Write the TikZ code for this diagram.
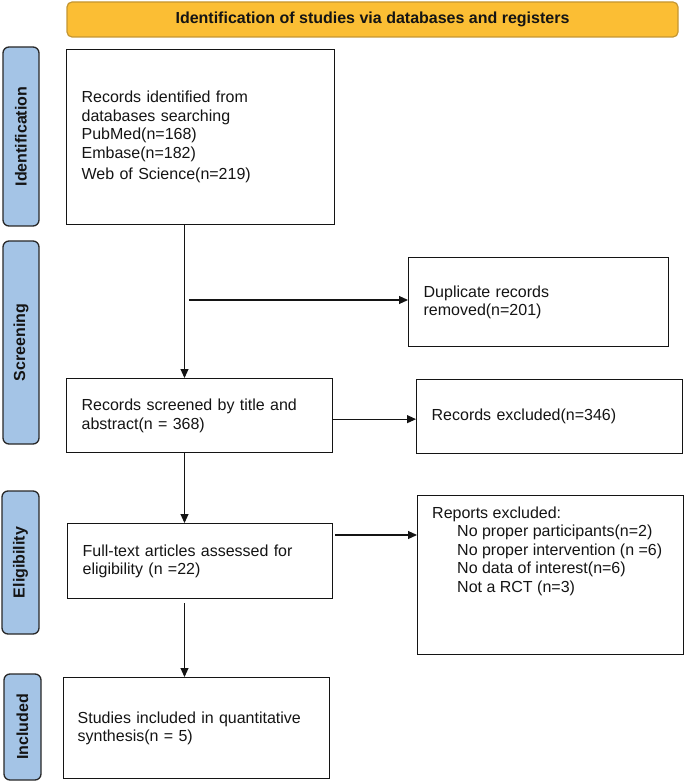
\documentclass[tikz,border=0pt]{standalone}
\usepackage{fontspec}
\setmainfont{Liberation Sans}
\usetikzlibrary{arrows.meta}
\definecolor{hdrfill}{RGB}{251,190,52}
\definecolor{hdrdraw}{RGB}{196,150,50}
\definecolor{labfill}{RGB}{164,196,230}
\definecolor{labdraw}{RGB}{40,40,40}
\definecolor{ink}{RGB}{20,20,20}
\begin{document}
\begin{tikzpicture}[x=1pt,y=-1pt,
  every node/.style={font=\fontsize{16}{18.5}\selectfont, text=ink},
  box/.style={draw=ink, line width=1.3pt, anchor=north west, inner xsep=15pt, inner ysep=0pt, align=left},
  lab/.style={draw=labdraw, fill=labfill, line width=1.3pt, rounded corners=6pt, rotate=90,
    font=\bfseries\fontsize{16}{18.5}\selectfont, inner sep=0pt},
  hdr/.style={draw=hdrdraw, fill=hdrfill, line width=1.2pt, rounded corners=5pt,
    font=\bfseries\fontsize{16}{18.5}\selectfont, inner sep=0pt},
  arr/.style={draw=ink, line width=1.1pt, -{Triangle[length=9pt,width=8pt]}},
]
\useasboundingbox (0,0) rectangle (685,783);

% header
\node[hdr, minimum width=611pt, minimum height=35pt] (hdr) at (372.5,19.5)
  {Identification of studies via databases and registers};

% side labels
\node[lab, minimum width=179pt, minimum height=36pt] (lab1) at (21,136.5) {Identification};
\node[lab, minimum width=203pt, minimum height=36pt] (lab2) at (21,342.5) {Screening};
\node[lab, minimum width=143pt, minimum height=37pt] (lab3) at (20.5,562.5) {Eligibility};
\node[lab, minimum width=106pt, minimum height=37pt] (lab4) at (22.5,727) {Included};

% boxes
\node[box, minimum width=268pt, minimum height=175pt, text width=238pt] (box1) at (66,49)
  {Records identified from\\databases searching\\PubMed(n=168)\\Embase(n=182)\\[3pt]Web of Science(n=219)};
\node[box, minimum width=260pt, minimum height=89pt, text width=230pt] (dup) at (408,257)
  {Duplicate records\\removed(n=201)};
\node[box, minimum width=266pt, minimum height=74pt, text width=236pt] (box2) at (66,378)
  {Records screened by title and\\abstract(n = 368)};
\node[box, minimum width=266pt, minimum height=74pt, text width=236pt] (excl) at (416,379)
  {Records excluded(n=346)};
\node[box, minimum width=265pt, minimum height=75pt, text width=235pt, inner xsep=14pt] (box3) at (67,523)
  {Full-text articles assessed for\\eligibility (n =22)};
\node[box, minimum width=266pt, minimum height=159pt] (rep) at (417,495) {};
\node[anchor=west, align=left, inner sep=0pt] (reptext) at (432,551)
  {Reports excluded:\\
   \hspace*{25pt}No proper participants(n=2)\\
   \hspace*{25pt}No proper intervention (n =6)\\
   \hspace*{25pt}No data of interest(n=6)\\
   \hspace*{25pt}Not a RCT (n=3)};
\node[box, minimum width=266pt, minimum height=101pt, text width=238pt, inner xsep=14pt] (box4) at (63,677)
  {Studies included in quantitative\\synthesis(n = 5)};

% connectors
\coordinate (trunk) at (184.5,0);
\draw[arr] (box1.south -| trunk) -- (box2.north -| trunk);
\coordinate (j1) at (189,300);
\draw[arr] (j1) -- (j1 -| dup.west);
\draw[arr] ([yshift=-3.5pt]box2.east) -- ([yshift=-3.5pt]box2.east -| excl.west);
\draw[arr] (box2.south -| trunk) -- (box3.north -| trunk);
\coordinate (j3) at (335,535);
\draw[arr] (j3) -- (j3 -| rep.west);
\coordinate (j4) at (184.5,603);
\draw[arr] (j4) -- (j4 |- box4.north);
\end{tikzpicture}
\end{document}
